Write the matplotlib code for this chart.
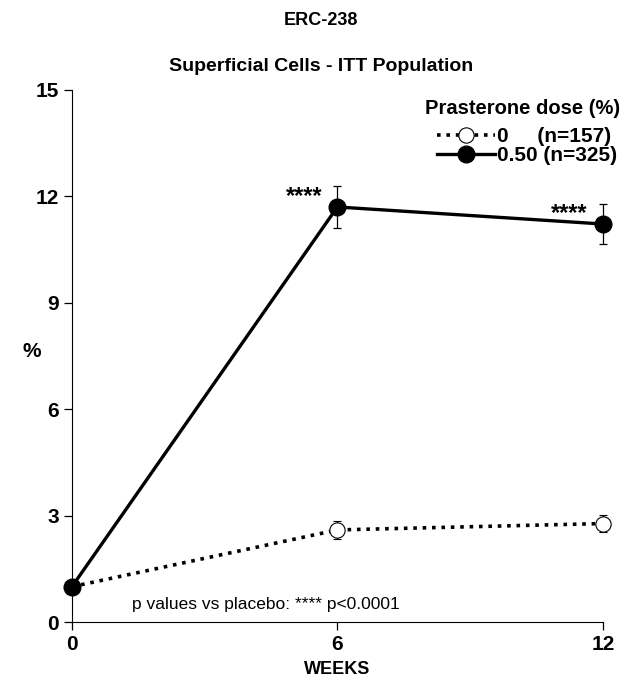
import numpy as np
import matplotlib.pyplot as plt

plt.rcParams['font.family'] = ['Liberation Sans', 'DejaVu Sans']

## Data
weeks = [0, 6, 12]
placebo_mean = [1.0, 2.6, 2.78]
placebo_err = [0.0, 0.25, 0.25]
dhea_mean = [1.0, 11.7, 11.22]
dhea_err = [0.0, 0.6, 0.56]
placebo_label = "0     (n=157)"
dhea_label = "0.50 (n=325)"
stars = ["", "****", "****"]

## Figure
fig = plt.figure(figsize=(6.42, 6.86), dpi=100)
ax = fig.add_axes([0.112, 0.093, 0.827, 0.776])

c1 = ax.errorbar(weeks, placebo_mean, yerr=placebo_err, color='black', linestyle=(0, (1, 1.6)),
                 linewidth=2.6, marker='o', markersize=11, markerfacecolor='white',
                 markeredgecolor='black', markeredgewidth=0.8, ecolor='black', elinewidth=0.9,
                 capsize=3, capthick=0.9, zorder=2)
c2 = ax.errorbar(weeks, dhea_mean, yerr=dhea_err, color='black', linestyle='-',
                 linewidth=2.4, marker='o', markersize=12, markerfacecolor='black',
                 ecolor='black', elinewidth=0.9, capsize=3, capthick=0.9, zorder=3)
for c in (c1, c2):
    c[0].set_clip_on(False)
    for part in c[1] + c[2]:
        part.set_clip_on(False)

## Significance stars, just left of each point
for x, y, s in zip(weeks, dhea_mean, stars):
    if s:
        ax.text(x - 0.34, y + 0.3, s, ha='right', va='center', fontsize=17, fontweight='bold')

ax.text(1.36, 0.5, "p values vs placebo: **** p<0.0001", fontsize=12.5, ha='left', va='center')

ax.set_xlim(0, 12)
ax.set_ylim(0, 15)
ax.set_xticks([0, 6, 12])
ax.set_yticks([0, 3, 6, 9, 12, 15])
ax.spines['top'].set_visible(False)
ax.spines['right'].set_visible(False)
ax.tick_params(axis='both', direction='out', length=6, width=0.9, labelsize=15)
for lab in ax.get_xticklabels() + ax.get_yticklabels():
    lab.set_fontweight('bold')
ax.set_xlabel("WEEKS", fontsize=13, fontweight='bold', labelpad=5)
ax.set_ylabel("%", fontsize=15, fontweight='bold', rotation=0)
ax.yaxis.set_label_coords(-0.075, 0.49)

## Legend (title drawn separately so the gap above the entries can be set)
leg = ax.legend([c1[0], c2[0]], [placebo_label, dhea_label], loc='upper left',
                bbox_to_anchor=(0.668, 0.95), frameon=False, fontsize=15,
                handlelength=2.8, handletextpad=0.1, borderpad=0.0, labelspacing=0.0)
for t in leg.get_texts():
    t.set_fontweight('bold')
fig.text(0.966, 1 - 108 / 686, "Prasterone dose (%)", ha='right', va='center',
         fontsize=14.5, fontweight='bold')

fig.text(0.5, 0.97, "ERC-238", ha='center', va='center', fontsize=13, fontweight='bold')
fig.text(0.5, 0.903, "Superficial Cells - ITT Population", ha='center', va='center',
         fontsize=14, fontweight='bold')

plt.savefig("out.png", dpi=100)
